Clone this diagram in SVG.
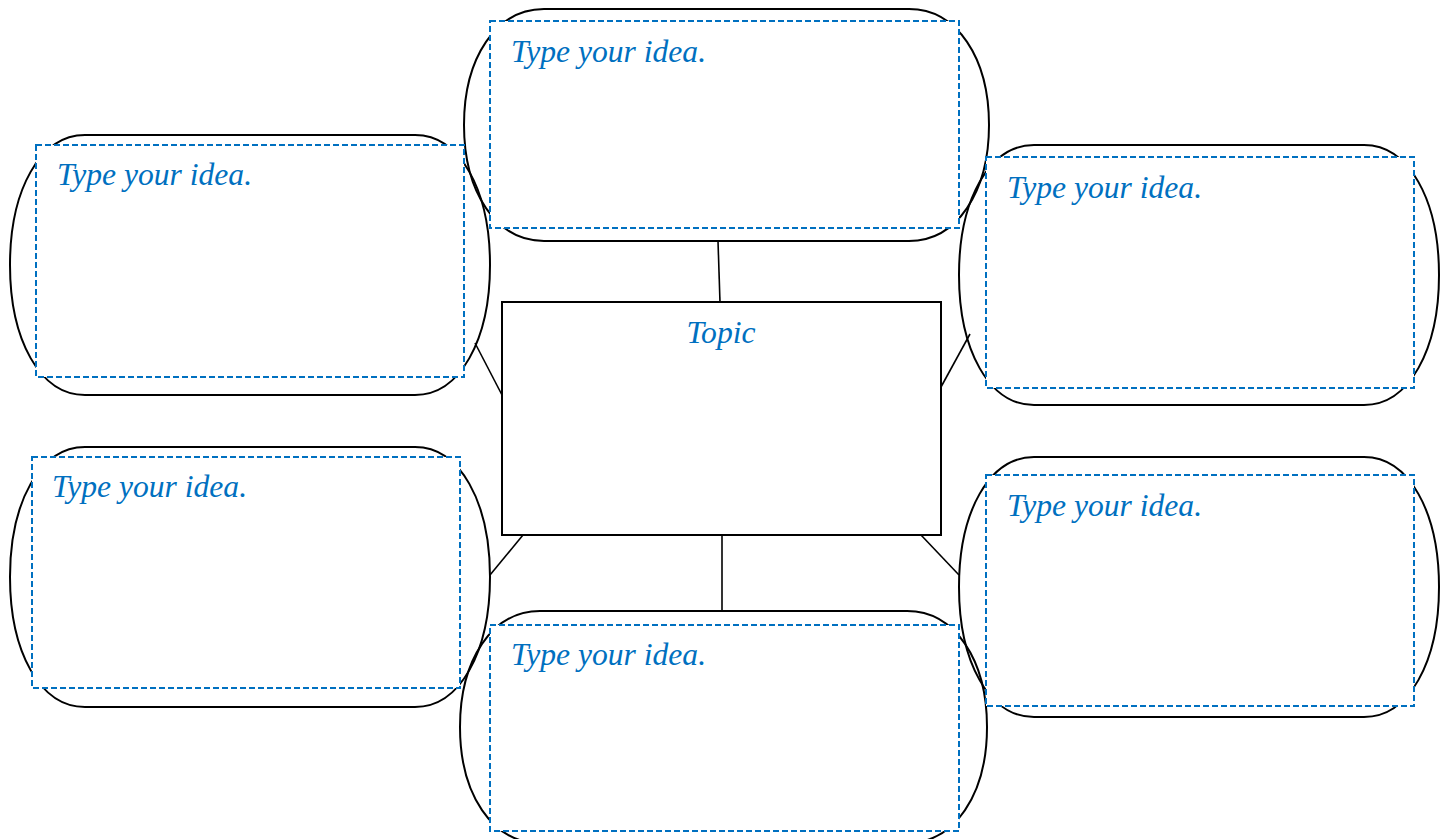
<svg xmlns="http://www.w3.org/2000/svg" width="1445" height="839" viewBox="0 0 1445 839">
<style>
.outline{fill:none;stroke:#000;stroke-width:2}
.box{fill:#fff;stroke:#0070C0;stroke-width:2;stroke-dasharray:6 3}
.lbl{font-family:"Liberation Serif","Times New Roman",serif;font-style:italic;font-size:31.6px;fill:#0070C0}
.conn line{stroke:#000;stroke-width:1.6}
.center{fill:#fff;stroke:#000;stroke-width:2}
</style>
<rect width="1445" height="839" fill="#fff"/>
<g id="connectors" class="conn">
<line x1="718" y1="241" x2="720" y2="302"/>
<line x1="475" y1="343" x2="502" y2="395"/>
<line x1="941" y1="387" x2="970" y2="334"/>
<line x1="523" y1="535" x2="490" y2="575"/>
<line x1="722" y1="535" x2="722" y2="611"/>
<line x1="921" y1="535" x2="959" y2="575"/>
</g>
<g id="outlines">
<path id="outline-top" class="outline" d="M544,9 H909 C957,9 989,58 989,125 C989,192 957,241 909,241 H544 C496,241 464,192 464,125 C464,58 496,9 544,9 Z"/>
<path id="outline-lt" class="outline" d="M85,135 H415 C460,135 490,190 490,265 C490,340 460,395 415,395 H85 C40,395 10,340 10,265 C10,190 40,135 85,135 Z"/>
<path id="outline-rt" class="outline" d="M1034,145 H1364 C1409,145 1439,200 1439,275 C1439,350 1409,405 1364,405 H1034 C989,405 959,350 959,275 C959,200 989,145 1034,145 Z"/>
<path id="outline-lb" class="outline" d="M85,447 H415 C460,447 490,502 490,577 C490,652 460,707 415,707 H85 C40,707 10,652 10,577 C10,502 40,447 85,447 Z"/>
<path id="outline-rb" class="outline" d="M1034,457 H1364 C1409,457 1439,512 1439,587 C1439,662 1409,717 1364,717 H1034 C989,717 959,662 959,587 C959,512 989,457 1034,457 Z"/>
<path id="outline-bottom" class="outline" d="M540,611 H907 C955,611 987,660 987,727 C987,794 955,843 907,843 H540 C492,843 460,794 460,727 C460,660 492,611 540,611 Z"/>
</g>
<g id="node-top">
<rect class="box" x="490" y="21" width="469" height="207"/>
<text class="lbl" x="511" y="62">Type your idea.</text>
</g>
<g id="node-left-top">
<rect class="box" x="36" y="145" width="428" height="232"/>
<text class="lbl" x="57" y="185">Type your idea.</text>
</g>
<g id="node-right-top">
<rect class="box" x="986" y="157" width="428" height="231"/>
<text class="lbl" x="1007" y="198">Type your idea.</text>
</g>
<g id="node-left-bottom">
<rect class="box" x="32" y="457" width="428" height="231"/>
<text class="lbl" x="52" y="497">Type your idea.</text>
</g>
<g id="node-right-bottom">
<rect class="box" x="986" y="475" width="428" height="231"/>
<text class="lbl" x="1007" y="516">Type your idea.</text>
</g>
<g id="node-bottom">
<rect class="box" x="490" y="625" width="469" height="206"/>
<text class="lbl" x="511" y="665">Type your idea.</text>
</g>
<g id="node-topic">
<rect class="center" x="502" y="302" width="439" height="233"/>
<text class="lbl" x="721" y="343" text-anchor="middle">Topic</text>
</g>
</svg>
